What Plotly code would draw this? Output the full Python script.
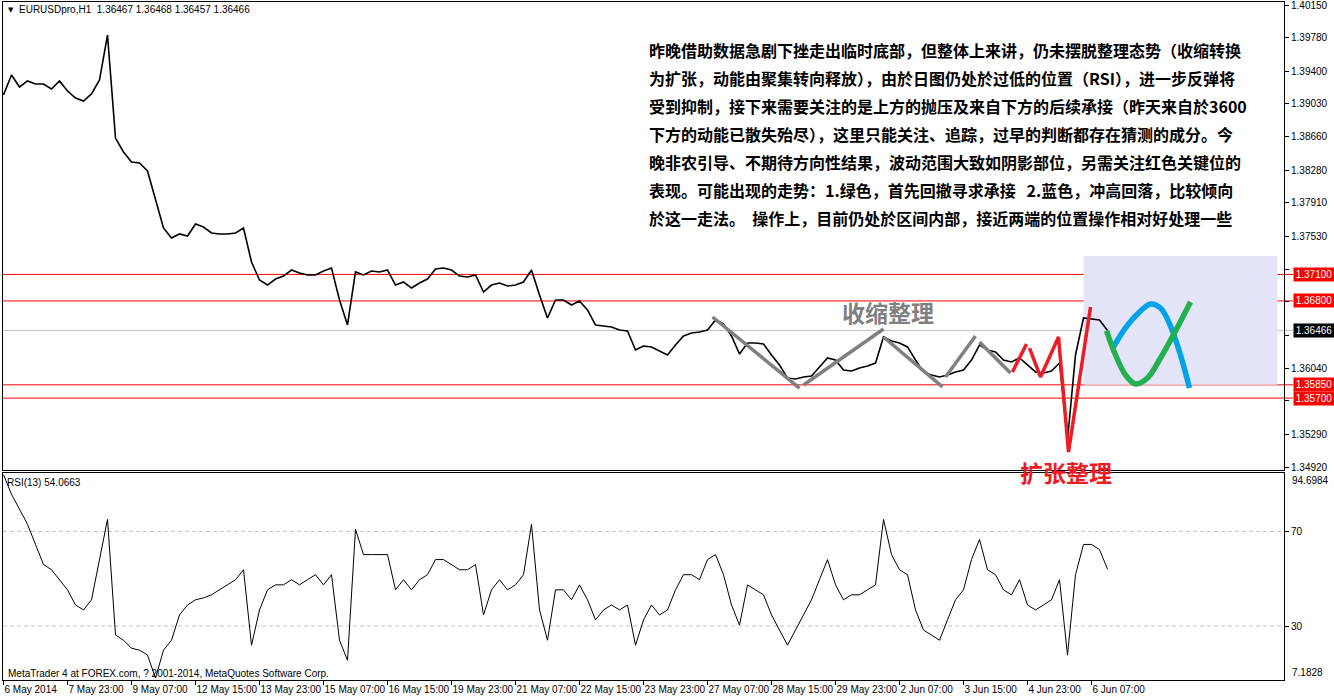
import plotly.graph_objects as go

W, H = 1334, 698

# ---------------- data ----------------
symbol_info = "EURUSDpro,H1  1.36467 1.36468 1.36457 1.36466"
rsi_info = "RSI(13) 54.0663"
copyright_text = "MetaTrader 4 at FOREX.com, ? 2001-2014, MetaQuotes Software Corp."

bar_step = 4  # one sample every 4 H1 bars

close = [
    1.39131, 1.39358, 1.39222, 1.39290, 1.39256, 1.39256, 1.39199, 1.39290, 1.39177, 1.39097, 1.39063, 1.39143, 1.39301,
    1.39810,
    1.38644, 1.38486, 1.38373, 1.38361, 1.38271, 1.37943, 1.37626, 1.37512, 1.37558, 1.37535, 1.37671, 1.37637, 1.37569,
    1.37558, 1.37558, 1.37569, 1.37626,
    1.37241, 1.37037, 1.36980, 1.37048, 1.37082, 1.37150, 1.37116, 1.37094, 1.37094, 1.37139, 1.37173,
    1.36811, 1.36528, 1.37128, 1.37094, 1.37139, 1.37128, 1.37150,
    1.36980, 1.37014, 1.36946, 1.37003, 1.37048, 1.37162, 1.37173, 1.37150, 1.37082, 1.37071, 1.37094,
    1.36901, 1.36980, 1.37003, 1.36969, 1.36980, 1.37014, 1.37150,
    1.36867, 1.36607, 1.36811, 1.36811, 1.36754, 1.36799, 1.36697, 1.36528, 1.36516, 1.36505, 1.36471, 1.36460,
    1.36245, 1.36290, 1.36279, 1.36233, 1.36188, 1.36301, 1.36403, 1.36437, 1.36448, 1.36471,
    1.36584, 1.36539, 1.36403, 1.36199, 1.36324, 1.36324, 1.36313, 1.36188, 1.36075, 1.35928,
    1.35916, 1.35939, 1.35950, 1.36052, 1.36154, 1.36131, 1.36018, 1.36007, 1.36041, 1.36064, 1.36097,
    1.36392, 1.36347, 1.36324, 1.36279, 1.36131, 1.35996, 1.35962, 1.35939, 1.35962, 1.35996, 1.36018,
    1.36131, 1.36301, 1.36245, 1.36222, 1.36131, 1.36109, 1.36154, 1.36075, 1.35996, 1.35984, 1.36007, 1.36097,
    1.35226, 1.36188, 1.36607, 1.36596, 1.36584, 1.36466,
]

rsi = [
    94.0, 85.7, 79.4, 73.0, 64.5, 56.0, 53.8, 49.6, 45.3, 38.9, 36.8, 41.1, 58.1, 75.1,
    26.2, 24.0, 20.6, 19.8, 17.7, 8.0, 19.8, 24.0, 34.7, 38.9, 41.1, 41.9, 43.2, 45.3, 47.4, 49.6, 53.8,
    21.9, 36.8, 45.3, 47.4, 47.4, 49.6, 47.4, 49.6, 51.7, 47.4, 51.7, 24.0, 15.5,
    70.9, 60.2, 60.2, 60.2, 60.2, 45.3, 49.6, 45.3, 49.6, 51.7, 58.1, 58.1, 56.0, 53.8, 53.8, 56.0,
    34.7, 45.3, 49.6, 45.3, 47.4, 51.7, 73.0, 36.8, 24.0,
    45.3, 45.3, 41.1, 47.4, 41.1, 32.6, 36.8, 38.9, 36.8, 38.9, 21.9, 32.6, 38.9, 34.7, 36.8,
    45.3, 51.7, 51.7, 49.6, 58.1, 60.2, 51.7, 38.9, 30.4, 47.4, 45.3, 43.2, 34.7, 28.3, 21.9,
    28.3, 34.7, 41.1, 49.6, 58.1, 47.4, 41.1, 43.2, 43.2, 45.3, 47.4,
    75.1, 60.2, 53.8, 51.7, 36.8, 28.3, 26.2, 24.0, 32.6, 41.1, 45.3,
    58.1, 66.6, 53.8, 51.7, 45.3, 43.2, 49.6, 38.9, 36.8, 38.9, 41.1, 49.6,
    17.7, 51.7, 64.5, 64.5, 62.3, 54.0663,
]

time_labels = ["6 May 2014", "7 May 23:00", "9 May 07:00", "12 May 15:00", "13 May 23:00", "15 May 07:00",
               "16 May 15:00", "19 May 23:00", "21 May 07:00", "22 May 15:00", "23 May 23:00", "27 May 07:00",
               "28 May 15:00", "29 May 23:00", "2 Jun 07:00", "3 Jun 15:00", "4 Jun 23:00", "6 Jun 07:00"]
label_step = 32  # bars between time labels

price_ticks = [1.40150, 1.39780, 1.39400, 1.39030, 1.38660, 1.38280, 1.37910, 1.37530,
               1.37160, 1.36790, 1.36410, 1.36040, 1.35670, 1.35290, 1.34920]
hidden_ticks = [1.37160, 1.36790, 1.36410, 1.35670]  # covered by the level boxes
key_levels = [1.37100, 1.36800, 1.35850, 1.35700]
last_price = 1.36466
price_range = [1.34886, 1.40184]
rsi_range = [7.1828, 94.6984]
rsi_levels = [70, 30]
bar_range = [-0.25, 640.25]

# hand-drawn annotations (bar index, price)
gray_bars = [354.5, 398, None, 400, 440, None, 440, 469.5, None, 471, 486, None, 488, 503.5]
gray_prices = [1.36618, 1.35814, None, 1.35848, 1.36482, None, 1.36392, 1.35826, None, 1.35939, 1.36403, None, 1.36335, 1.35984]
red_bars = [504.5, 511.5, None, 513, 518.5, 527.5, 532.5, 543.5]
red_prices = [1.35996, 1.36313, None, 1.36267, 1.35939, 1.36392, 1.35090, 1.36732]
blue_bars = [555, 561, 567, 573.5, 578.5, 583.5, 588.5, 593]
blue_prices = [1.36279, 1.36494, 1.36652, 1.36765, 1.36720, 1.36516, 1.36188, 1.35814]
green_bars = [551.5, 556, 561, 566, 572, 578.5, 586, 593.5]
green_prices = [1.36460, 1.36188, 1.35962, 1.35860, 1.35928, 1.36154, 1.36460, 1.36788]
zone_bars = [540, 637]
zone_prices = [1.35850, 1.37309]

paragraph = [
    "昨晚借助数据急剧下挫走出临时底部，但整体上来讲，仍未摆脱整理态势（收缩转换",
    "为扩张，动能由聚集转向释放），由於日图仍处於过低的位置（RSI），进一步反弹将",
    "受到抑制，接下来需要关注的是上方的抛压及来自下方的后续承接（昨天来自於3600",
    "下方的动能已散失殆尽），这里只能关注、追踪，过早的判断都存在猜测的成分。今",
    "晚非农引导、不期待方向性结果，波动范围大致如阴影部位，另需关注红色关键位的",
    "表现。可能出现的走势：1.绿色，首先回撤寻求承接   2.蓝色，冲高回落，比较倾向",
    "於这一走法。  操作上，目前仍处於区间内部，接近两端的位置操作相对好处理一些",
]
label_contract = "收缩整理"
label_expand = "扩张整理"

# ---------------- layout helpers ----------------
ML, MR, MT, MB = 3, 50, 2, 18
PW, PH = W - ML - MR, H - MT - MB


def px_x(x):
    return (x - ML) / PW


def px_y(y):
    return 1 - (y - MT) / PH


main_dom = [px_y(470), 1.0]
rsi_dom = [0.0, px_y(473)]

TICK_FONT = dict(family="Liberation Sans, Arial, sans-serif", size=10, color="black")
CJK = "Noto Sans CJK SC, sans-serif"
RED = "#ed1c24"

fig = go.Figure()
bars = list(range(0, bar_step * len(close), bar_step))

fig.add_trace(go.Scatter(x=bars, y=close, mode="lines", line=dict(color="black", width=1.6),
                         xaxis="x", yaxis="y", hoverinfo="skip"))
fig.add_trace(go.Scatter(x=bars, y=rsi, mode="lines", line=dict(color="black", width=1),
                         xaxis="x2", yaxis="y2", hoverinfo="skip"))
fig.add_trace(go.Scatter(x=gray_bars, y=gray_prices, mode="lines", line=dict(color="#808080", width=3.5),
                         connectgaps=False, xaxis="x", yaxis="y", hoverinfo="skip"))
fig.add_trace(go.Scatter(x=red_bars, y=red_prices, mode="lines", line=dict(color=RED, width=3.5),
                         connectgaps=False, xaxis="x", yaxis="y", hoverinfo="skip"))
fig.add_trace(go.Scatter(x=blue_bars, y=blue_prices, mode="lines", line=dict(color="#00a2e8", width=5.5, shape="spline"),
                         xaxis="x", yaxis="y", hoverinfo="skip"))
fig.add_trace(go.Scatter(x=green_bars, y=green_prices, mode="lines", line=dict(color="#22b14c", width=5.5, shape="spline"),
                         xaxis="x", yaxis="y", hoverinfo="skip"))

shapes = []
shapes.append(dict(type="rect", xref="x", yref="y", x0=zone_bars[0], x1=zone_bars[1],
                   y0=zone_prices[0], y1=zone_prices[1], fillcolor="#e4e4f8", line=dict(width=0), layer="below"))
x_end = px_x(1293)
for lv in key_levels:
    shapes.append(dict(type="line", xref="paper", yref="y", x0=0, x1=x_end, y0=lv, y1=lv,
                       line=dict(color="red", width=1), layer="below"))
shapes.append(dict(type="line", xref="paper", yref="y", x0=0, x1=x_end, y0=last_price, y1=last_price,
                   line=dict(color="#c0c0c0", width=1), layer="below"))
for lv in rsi_levels:
    shapes.append(dict(type="line", xref="paper", yref="y2", x0=0, x1=1, y0=lv, y1=lv,
                       line=dict(color="#c0c0c0", width=1, dash="4px,3px"), layer="below"))

ann = []
ann.append(dict(xref="paper", yref="paper", x=px_x(6), y=px_y(10), xanchor="left", yanchor="middle",
                text="▼", showarrow=False, font=dict(family="DejaVu Sans", size=7, color="black")))
ann.append(dict(xref="paper", yref="paper", x=px_x(17), y=px_y(10), xanchor="left", yanchor="middle",
                text=symbol_info, showarrow=False, font=TICK_FONT))
ann.append(dict(xref="paper", yref="paper", x=px_x(5), y=px_y(482), xanchor="left", yanchor="middle",
                text=rsi_info, showarrow=False, font=TICK_FONT))
ann.append(dict(xref="paper", yref="paper", x=px_x(6), y=px_y(673), xanchor="left", yanchor="middle",
                text=copyright_text, showarrow=False, font=TICK_FONT))
for i, line in enumerate(paragraph):
    ann.append(dict(xref="paper", yref="paper", x=px_x(647), y=px_y(50 + 28 * i), xanchor="left", yanchor="middle",
                    text="<b>" + line + "</b>", showarrow=False, font=dict(family=CJK, size=16, color="black")))
ann.append(dict(xref="paper", yref="paper", x=px_x(888), y=px_y(312), xanchor="center", yanchor="middle",
                text="<b>" + label_contract + "</b>", showarrow=False, font=dict(family=CJK, size=23, color="#808080")))
ann.append(dict(xref="paper", yref="paper", x=px_x(1066), y=px_y(472), xanchor="center", yanchor="middle",
                text="<b>" + label_expand + "</b>", showarrow=False, font=dict(family=CJK, size=23, color=RED)))
# price boxes on axis
for lv in key_levels:
    ann.append(dict(xref="paper", yref="y", x=px_x(1293), y=lv, xanchor="left", yanchor="middle",
                    text=f"{lv:.5f}", showarrow=False, bgcolor="red", borderpad=1, width=38,
                    font=dict(family=TICK_FONT["family"], size=10, color="white")))
ann.append(dict(xref="paper", yref="y", x=px_x(1293), y=last_price, xanchor="left", yanchor="middle",
                text=f"{last_price:.5f}", showarrow=False, bgcolor="black", borderpad=1, width=38,
                font=dict(family=TICK_FONT["family"], size=10, color="white")))
# rsi extremes
ann.append(dict(xref="paper", yref="y2", x=px_x(1290), y=rsi_range[1], xanchor="left", yanchor="top",
                text=f"{rsi_range[1]:.4f}", showarrow=False, font=TICK_FONT))
ann.append(dict(xref="paper", yref="y2", x=px_x(1290), y=rsi_range[0], xanchor="left", yanchor="bottom",
                text=f"{rsi_range[0]:.4f}", showarrow=False, font=TICK_FONT))

axis_common = dict(showgrid=False, zeroline=False, showline=True, mirror=True, linecolor="black", linewidth=1)

fig.update_layout(
    width=W, height=H, margin=dict(l=ML, r=MR, t=MT, b=MB, autoexpand=False),
    paper_bgcolor="white", plot_bgcolor="white", showlegend=False,
    shapes=shapes, annotations=ann,
    xaxis=dict(domain=[0, 1], anchor="y", range=bar_range, showticklabels=False, ticks="", **axis_common),
    yaxis=dict(domain=main_dom, anchor="x", side="right", range=price_range,
               tickvals=price_ticks,
               ticktext=["" if v in hidden_ticks else f"{v:.5f}" for v in price_ticks],
               ticklabeloverflow="allow",
               ticks="outside", ticklen=4, tickcolor="black", tickfont=TICK_FONT, **axis_common),
    xaxis2=dict(domain=[0, 1], anchor="y2", range=bar_range, tickangle=0,
                tickvals=[i * label_step for i in range(len(time_labels))], ticktext=time_labels,
                ticks="outside", ticklen=4, tickcolor="black", ticklabelposition="outside right",
                tickfont=TICK_FONT, **axis_common),
    yaxis2=dict(domain=rsi_dom, anchor="x2", side="right", range=rsi_range,
                tickvals=rsi_levels, ticktext=[str(v) for v in rsi_levels],
                ticks="outside", ticklen=4, tickcolor="black", tickfont=TICK_FONT, **axis_common),
)

fig.write_html("out.html", config={"displayModeBar": False},
               post_script="document.body.style.margin='0';document.body.style.padding='0';")
